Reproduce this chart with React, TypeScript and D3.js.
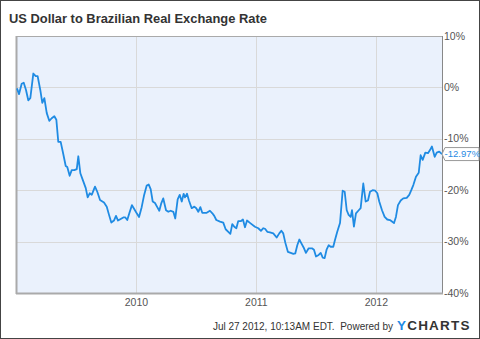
import React from "react";
import * as d3 from "d3";

// decimal-year positions of the weekly observations
const years: number[] = [
  2009.005, 2009.022, 2009.044, 2009.061, 2009.080, 2009.099, 2009.116, 2009.141, 2009.161, 2009.177,
  2009.199, 2009.216, 2009.233, 2009.253, 2009.274, 2009.294, 2009.316, 2009.333, 2009.349, 2009.369,
  2009.391, 2009.411, 2009.424, 2009.444, 2009.461, 2009.483, 2009.503, 2009.516, 2009.533, 2009.553,
  2009.578, 2009.594, 2009.611, 2009.628, 2009.655, 2009.674, 2009.697, 2009.730, 2009.753, 2009.772,
  2009.791, 2009.813, 2009.830, 2009.847, 2009.869, 2009.891, 2009.908, 2009.924, 2009.941, 2009.963,
  2009.983, 2010.003, 2010.022, 2010.044, 2010.063, 2010.086, 2010.103, 2010.119, 2010.136, 2010.155,
  2010.174, 2010.191, 2010.208, 2010.224, 2010.247, 2010.266, 2010.286, 2010.308, 2010.324, 2010.344,
  2010.361, 2010.378, 2010.394, 2010.405, 2010.422, 2010.438, 2010.461, 2010.483, 2010.499, 2010.516,
  2010.533, 2010.549, 2010.586, 2010.613, 2010.633, 2010.649, 2010.666, 2010.697, 2010.724, 2010.744,
  2010.766, 2010.783, 2010.799, 2010.816, 2010.833, 2010.849, 2010.872, 2010.888, 2010.905, 2010.922,
  2010.949, 2010.988, 2011.016, 2011.038, 2011.058, 2011.072, 2011.091, 2011.113, 2011.141, 2011.169,
  2011.191, 2011.208, 2011.224, 2011.241, 2011.263, 2011.286, 2011.308, 2011.324, 2011.341, 2011.358,
  2011.374, 2011.397, 2011.413, 2011.436, 2011.463, 2011.480, 2011.497, 2011.519, 2011.536, 2011.553,
  2011.569, 2011.586, 2011.603, 2011.619, 2011.641, 2011.655, 2011.674, 2011.697, 2011.719, 2011.736,
  2011.753, 2011.769, 2011.786, 2011.797, 2011.813, 2011.830, 2011.853, 2011.869, 2011.891, 2011.911,
  2011.930, 2011.947, 2011.969, 2011.991, 2012.008, 2012.024, 2012.047, 2012.069, 2012.091, 2012.113,
  2012.130, 2012.147, 2012.163, 2012.180, 2012.203, 2012.224, 2012.253, 2012.274, 2012.291, 2012.308,
  2012.330, 2012.353, 2012.369, 2012.386, 2012.408, 2012.430, 2012.447, 2012.463, 2012.486, 2012.503,
  2012.524, 2012.547,
];

// percent change since start
const changes: number[] = [
  -0.2, -1.3, 0.7, 0.9, -0.5, -2.5, -2.1, 2.7, 2.2, 2.2,
  -0.5, -3.0, -2.1, -5.0, -6.5, -6.0, -5.6, -6.3, -10.6, -10.6,
  -13.0, -15.3, -15.5, -17.2, -16.1, -16.1, -15.9, -13.4, -16.7, -18.0,
  -19.6, -21.4, -20.6, -20.9, -19.3, -20.3, -21.9, -22.4, -23.2, -24.8,
  -26.3, -25.9, -25.0, -25.9, -25.6, -25.3, -25.3, -25.8, -24.5, -22.9,
  -23.7, -24.5, -25.2, -23.3, -21.1, -19.1, -18.9, -19.8, -22.2, -22.5,
  -23.3, -24.0, -22.5, -21.6, -23.9, -24.2, -24.0, -24.2, -25.5, -21.8,
  -20.9, -22.2, -20.7, -21.4, -20.7, -22.0, -23.5, -23.2, -23.5, -24.2,
  -23.3, -24.4, -24.4, -24.0, -24.5, -25.0, -25.8, -26.1, -26.3, -27.6,
  -28.1, -28.5, -26.6, -27.1, -27.4, -26.0, -26.0, -25.7, -27.2, -25.9,
  -26.4, -27.1, -27.4, -27.9, -27.4, -27.5, -28.1, -28.2, -28.4, -29.2,
  -28.4, -27.9, -28.4, -30.2, -32.0, -32.2, -32.4, -32.3, -30.7, -29.6,
  -30.3, -31.3, -32.2, -31.3, -31.3, -31.6, -32.9, -32.6, -32.2, -33.1,
  -33.2, -31.5, -30.7, -31.0, -31.0, -29.7, -28.1, -26.4, -20.1, -20.3,
  -23.9, -24.8, -25.2, -23.9, -27.1, -24.5, -23.9, -23.5, -18.7, -22.2,
  -22.0, -20.3, -20.0, -20.1, -20.6, -22.2, -23.9, -25.2, -25.7, -25.8,
  -26.1, -26.4, -25.2, -22.9, -22.0, -21.6, -21.5, -20.9, -20.0, -19.0,
  -17.4, -16.6, -13.2, -14.1, -12.7, -12.8, -12.2, -11.5, -13.5, -12.7,
  -12.5, -12.97,
];

const yTicks: number[] = [10, 0, -10, -20, -30, -40];
const xTicks: number[] = [2010, 2011, 2012];
const title = "US Dollar to Brazilian Real Exchange Rate";
const footer = "Jul 27 2012, 10:13AM EDT.\u00a0 Powered by";

const W = 480;
const H = 339;
const M = { left: 17, right: 442, top: 36, bottom: 293 };
const FONT = "'Liberation Sans', Arial, sans-serif";
const BLUE = "#1f8be3";

export default function App() {
  const x = d3.scaleLinear().domain([years[0], years[years.length - 1]]).range([M.left, M.right]);
  const y = d3.scaleLinear().domain([-40, 10]).range([M.bottom, M.top]);
  const pts = years.map((yr, i) => [yr, changes[i]] as [number, number]);
  const line = d3
    .line<[number, number]>()
    .x((d) => x(d[0]))
    .y((d) => y(d[1]));
  const last = changes[changes.length - 1];
  const ly = y(last);

  return (
    <svg
      width={W}
      height={H}
      style={{ position: "absolute", left: 0, top: 0, fontFamily: FONT }}
    >
      <rect x={0} y={0} width={W} height={H} fill="#fff" />
      <rect x={0.5} y={0.5} width={W - 1} height={H - 1} fill="none" stroke="#444" strokeWidth={1} />
      <text x={9} y={23} fontSize={12.9} fontWeight="bold" fill="#333">
        {title}
      </text>
      <rect x={M.left} y={M.top} width={M.right - M.left} height={M.bottom - M.top} fill="#eaf1fc" />
      {yTicks.slice(1, -1).map((t) => (
        <line key={t} x1={M.left} x2={M.right} y1={Math.round(y(t)) + 0.5} y2={Math.round(y(t)) + 0.5} stroke="#d9d9d9" />
      ))}
      {xTicks.map((t) => (
        <line key={t} x1={Math.round(x(t)) + 0.5} x2={Math.round(x(t)) + 0.5} y1={M.top} y2={M.bottom} stroke="#d9d9d9" />
      ))}
      <line x1={M.left} x2={M.right} y1={M.top + 0.5} y2={M.top + 0.5} stroke="#aaa" />
      <line x1={M.right + 0.5} x2={M.right + 0.5} y1={M.top} y2={M.bottom} stroke="#888" />
      <line x1={M.left - 0.5} x2={M.left - 0.5} y1={M.top} y2={M.bottom + 1} stroke="#aaa" strokeWidth={2} />
      <line x1={M.left - 1} x2={M.right + 1} y1={M.bottom + 0.5} y2={M.bottom + 0.5} stroke="#aaa" strokeWidth={2} />
      <path d={line(pts) || ""} fill="none" stroke={BLUE} strokeWidth={1.8} strokeLinejoin="round" />
      {yTicks.map((t) => (
        <text key={t} x={M.right + 2} y={y(t)} dy="0.35em" fontSize={10.5} fill="#555">
          {t}%
        </text>
      ))}
      {xTicks.map((t) => (
        <text key={t} x={x(t)} y={306} textAnchor="middle" fontSize={10.5} fill="#555">
          {t}
        </text>
      ))}
      <path
        d={`M${M.right},${ly} L${M.right + 3},${ly - 6.5} H${W - 1} V${ly + 6.5} H${M.right + 3} Z`}
        fill="#fff"
        stroke="#999"
        strokeWidth={1}
      />
      <text x={M.right + 2.5} y={ly} dy="0.35em" fontSize={9.6} fill={BLUE}>
        {last.toFixed(2)}%
      </text>
      <text x={393} y={330} textAnchor="end" fontSize={10} fill="#333">
        {footer}
      </text>
      <text x={397} y={330} fontSize={13.5} fontWeight="bold" letterSpacing={1.2}>
        <tspan fill={BLUE}>Y</tspan>
        <tspan fill="#333">CHARTS</tspan>
      </text>
    </svg>
  );
}
